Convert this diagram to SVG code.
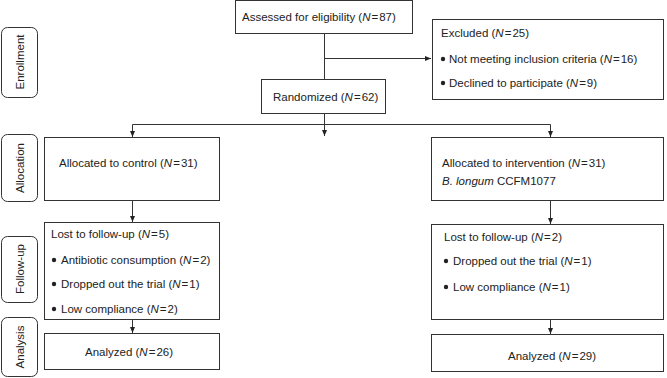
<svg xmlns="http://www.w3.org/2000/svg" width="667" height="378" viewBox="0 0 667 378">
<defs>
<marker id="arr" viewBox="0 0 6 6" refX="6" refY="3" markerWidth="6" markerHeight="6" markerUnits="userSpaceOnUse" orient="auto">
<path d="M0,0.5 L6,3 L0,5.5 z" fill="#222"/>
</marker>
<style>
rect.box{fill:#fff;stroke:#333;stroke-width:1}
rect.side{fill:#fff;stroke:#333;stroke-width:1}
text{font-family:"Liberation Sans",Arial,sans-serif;font-size:11.5px;fill:#222}
.c{text-anchor:middle}
.i{font-style:italic}
.conn line{stroke:#333;stroke-width:1;fill:none}
circle.b{fill:#222}
</style>
</defs>
<rect width="667" height="378" fill="#fff"/>

<g id="side-enrollment"><rect class="side" x="1.5" y="27.5" width="36" height="70" rx="6"/><text class="c" transform="translate(24,62) rotate(-90)">Enrollment</text></g>
<g id="side-allocation"><rect class="side" x="1.5" y="134.5" width="36" height="67" rx="6"/><text class="c" transform="translate(24,168) rotate(-90)">Allocation</text></g>
<g id="side-followup"><rect class="side" x="1.5" y="236.5" width="36" height="66" rx="6"/><text class="c" transform="translate(24,269) rotate(-90)">Follow-up</text></g>
<g id="side-analysis"><rect class="side" x="1.5" y="317.5" width="36" height="59" rx="6"/><text class="c" transform="translate(24,347) rotate(-90)">Analysis</text></g>

<g class="conn" id="connectors">
<line x1="324.5" y1="33" x2="324.5" y2="79"/>
<line x1="324.5" y1="58.5" x2="431" y2="58.5" marker-end="url(#arr)"/>
<line x1="324.5" y1="113" x2="324.5" y2="136" marker-end="url(#arr)"/>
<line x1="132.5" y1="124.5" x2="550.5" y2="124.5"/>
<line x1="132.5" y1="124.5" x2="132.5" y2="137" marker-end="url(#arr)"/>
<line x1="550.5" y1="124.5" x2="550.5" y2="137" marker-end="url(#arr)"/>
<line x1="132.5" y1="200" x2="132.5" y2="222" marker-end="url(#arr)"/>
<line x1="550.5" y1="200" x2="550.5" y2="224" marker-end="url(#arr)"/>
<line x1="132.5" y1="320" x2="132.5" y2="333" marker-end="url(#arr)"/>
<line x1="550.5" y1="320" x2="550.5" y2="334" marker-end="url(#arr)"/>
</g>

<g id="assessed"><rect class="box" x="235.5" y="0.5" width="177" height="33"/><text x="242" y="21">Assessed for eligibility (<tspan class="i">N</tspan><tspan dx="1">=</tspan><tspan dx="1">87)</tspan></text></g>
<g id="excluded"><rect class="box" x="432.5" y="19.5" width="231" height="80"/>
<text x="441" y="37">Excluded (<tspan class="i">N</tspan><tspan dx="1">=</tspan><tspan dx="1">25)</tspan></text>
<circle class="b" cx="443" cy="59" r="2.2"/><text x="449" y="63">Not meeting inclusion criteria (<tspan class="i">N</tspan><tspan dx="1">=</tspan><tspan dx="1">16)</tspan></text>
<circle class="b" cx="443" cy="83" r="2.2"/><text x="449" y="87">Declined to participate (<tspan class="i">N</tspan><tspan dx="1">=</tspan><tspan dx="1">9)</tspan></text>
</g>
<g id="randomized"><rect class="box" x="261.5" y="79.5" width="124" height="34"/><text x="273" y="101">Randomized (<tspan class="i">N</tspan><tspan dx="1">=</tspan><tspan dx="1">62)</tspan></text></g>

<g id="control"><rect class="box" x="44.5" y="137.5" width="175" height="63"/><text x="59" y="167">Allocated to control (<tspan class="i">N</tspan><tspan dx="1">=</tspan><tspan dx="1">31)</tspan></text></g>
<g id="intervention"><rect class="box" x="431.5" y="137.5" width="232" height="63"/><text x="442" y="167">Allocated to intervention (<tspan class="i">N</tspan><tspan dx="1">=</tspan><tspan dx="1">31)</tspan></text><text x="442" y="185"><tspan class="i">B. longum</tspan> CCFM1077</text></g>

<g id="lost-control"><rect class="box" x="44.5" y="222.5" width="175" height="97"/>
<text x="51" y="238">Lost to follow-up (<tspan class="i">N</tspan><tspan dx="1">=</tspan><tspan dx="1">5)</tspan></text>
<circle class="b" cx="54" cy="260" r="2.2"/><text x="61" y="264">Antibiotic consumption (<tspan class="i">N</tspan><tspan dx="1">=</tspan><tspan dx="1">2)</tspan></text>
<circle class="b" cx="54" cy="284" r="2.2"/><text x="61" y="288">Dropped out the trial (<tspan class="i">N</tspan><tspan dx="1">=</tspan><tspan dx="1">1)</tspan></text>
<circle class="b" cx="54" cy="309" r="2.2"/><text x="61" y="313">Low compliance (<tspan class="i">N</tspan><tspan dx="1">=</tspan><tspan dx="1">2)</tspan></text>
</g>
<g id="lost-intervention"><rect class="box" x="431.5" y="224.5" width="232" height="95"/>
<text x="444" y="241">Lost to follow-up (<tspan class="i">N</tspan><tspan dx="1">=</tspan><tspan dx="1">2)</tspan></text>
<circle class="b" cx="446" cy="261" r="2.2"/><text x="453" y="265">Dropped out the trial (<tspan class="i">N</tspan><tspan dx="1">=</tspan><tspan dx="1">1)</tspan></text>
<circle class="b" cx="446" cy="287" r="2.2"/><text x="453" y="291">Low compliance (<tspan class="i">N</tspan><tspan dx="1">=</tspan><tspan dx="1">1)</tspan></text>
</g>

<g id="analyzed-control"><rect class="box" x="44.5" y="333.5" width="175" height="36"/><text class="c" x="129" y="356">Analyzed (<tspan class="i">N</tspan><tspan dx="1">=</tspan><tspan dx="1">26)</tspan></text></g>
<g id="analyzed-intervention"><rect class="box" x="431.5" y="334.5" width="232" height="37"/><text class="c" x="552" y="360">Analyzed (<tspan class="i">N</tspan><tspan dx="1">=</tspan><tspan dx="1">29)</tspan></text></g>
</svg>
